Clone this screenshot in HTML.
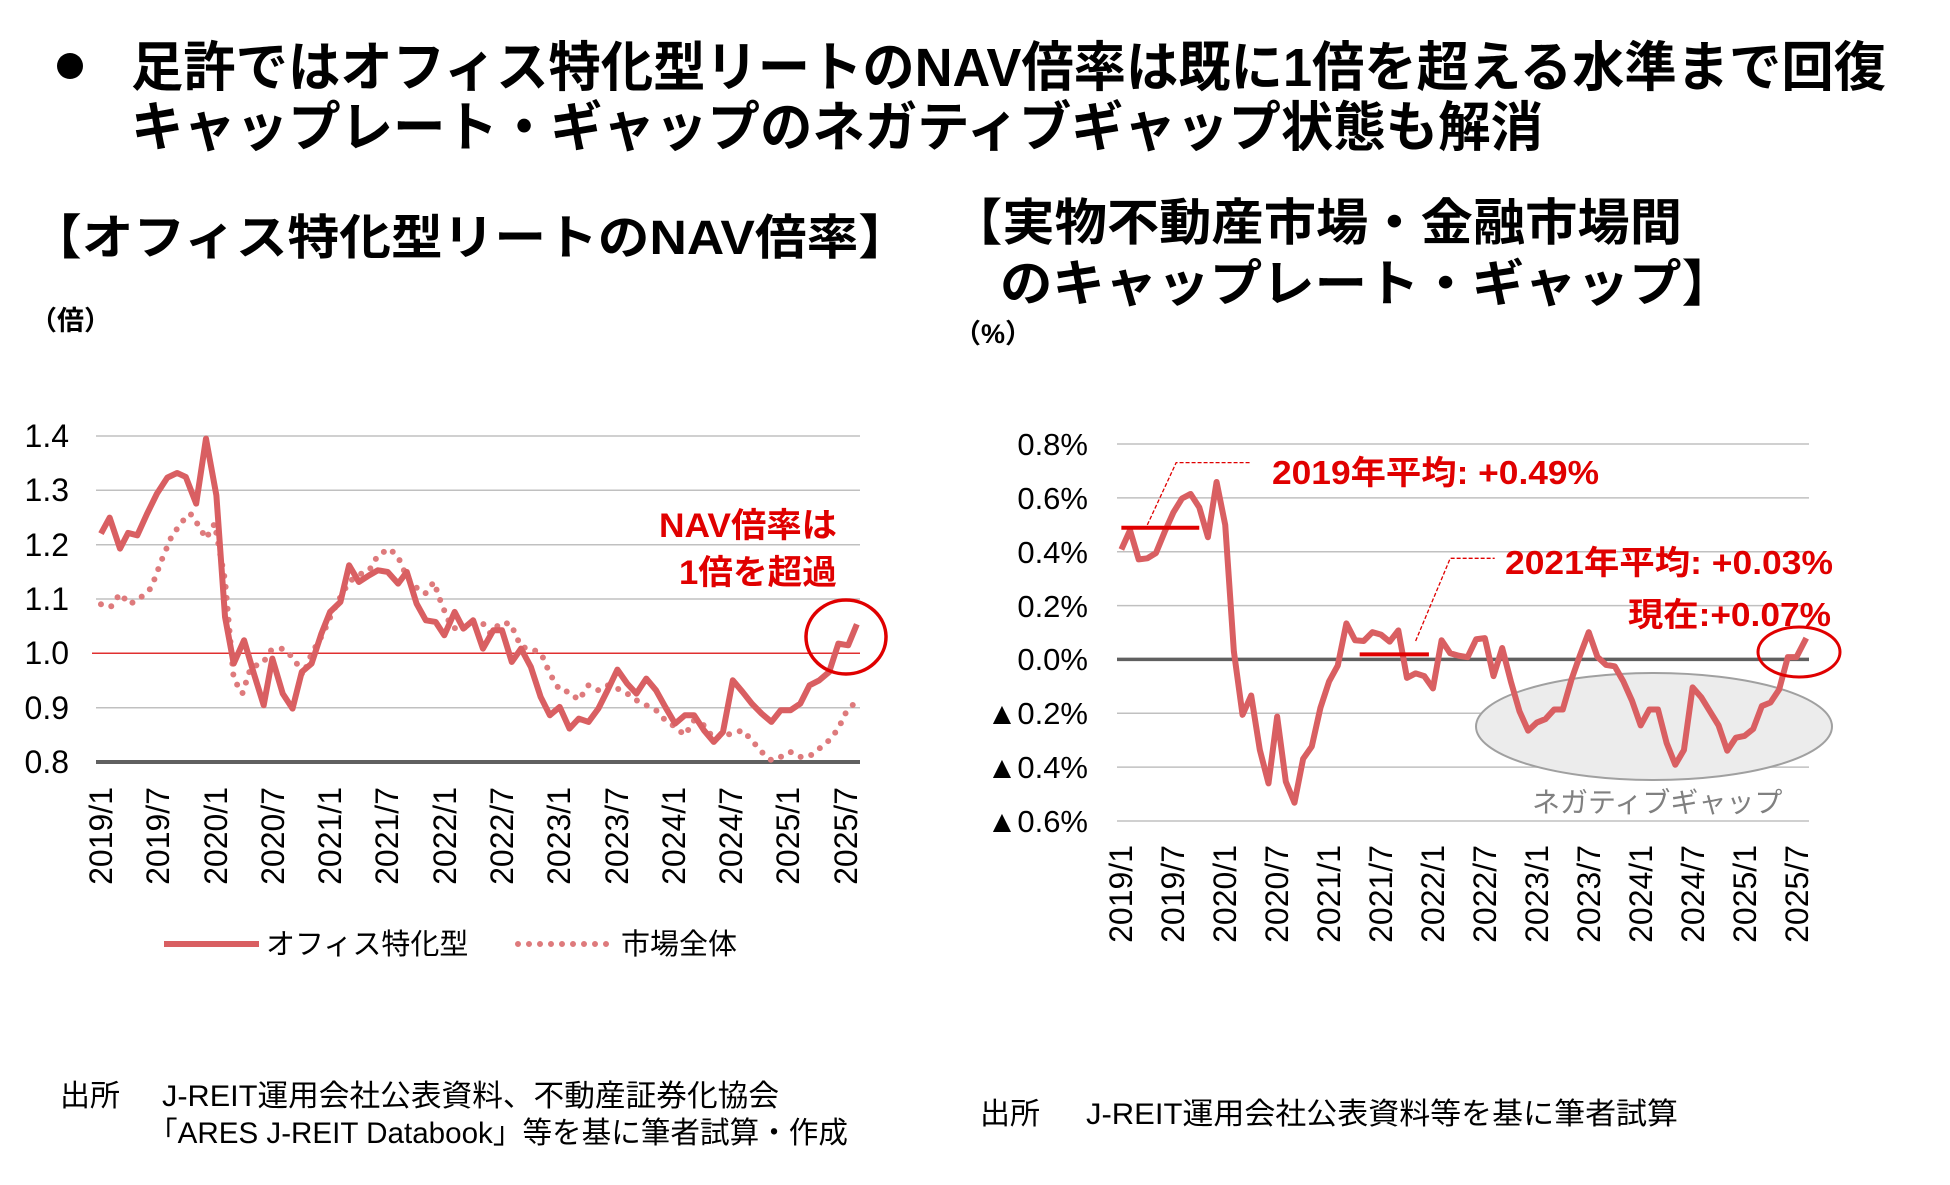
<!DOCTYPE html>
<html><head><meta charset="utf-8"><style>
html,body{margin:0;padding:0;background:#fff;}
svg{display:block;}
text{font-family:"Liberation Sans","Noto Sans CJK JP",sans-serif;}
</style></head><body>
<svg width="1950" height="1185" viewBox="0 0 1950 1185" xmlns="http://www.w3.org/2000/svg">
<!-- Title -->
<circle cx="70" cy="66" r="13" fill="#000"/>
<text x="131" y="86" font-size="54" font-weight="bold" fill="#000" textLength="1755" lengthAdjust="spacingAndGlyphs">足許ではオフィス特化型リートのNAV倍率は既に1倍を超える水準まで回復</text>
<text x="131" y="146" font-size="54" font-weight="bold" fill="#000" textLength="1412" lengthAdjust="spacingAndGlyphs">キャップレート・ギャップのネガティブギャップ状態も解消</text>
<text x="30" y="254" font-size="48" font-weight="bold" fill="#000" textLength="880" lengthAdjust="spacingAndGlyphs">【オフィス特化型リートのNAV倍率】</text>
<text x="950" y="240" font-size="50" font-weight="bold" fill="#000" textLength="732" lengthAdjust="spacingAndGlyphs">【実物不動産市場・金融市場間</text>
<text x="1000" y="301" font-size="50" font-weight="bold" fill="#000" textLength="734" lengthAdjust="spacingAndGlyphs">のキャップレート・ギャップ】</text>
<text x="30" y="330" font-size="27" font-weight="bold" fill="#000">（倍）</text>
<text x="954" y="343" font-size="27" font-weight="bold" fill="#000">（%）</text>

<!-- LEFT CHART -->
<g stroke="#c0c0c0" stroke-width="1.5">
<line x1="96" x2="860" y1="436" y2="436"/><line x1="96" x2="860" y1="490.3" y2="490.3"/>
<line x1="96" x2="860" y1="544.7" y2="544.7"/><line x1="96" x2="860" y1="599" y2="599"/>
<line x1="96" x2="860" y1="707.7" y2="707.7"/>
</g>
<line x1="92" x2="860" y1="653.3" y2="653.3" stroke="#e03030" stroke-width="1.5"/>
<line x1="96" x2="860" y1="762" y2="762" stroke="#606060" stroke-width="4"/>
<g font-size="32" fill="#000" text-anchor="end">
<text x="69" y="447">1.4</text><text x="69" y="501">1.3</text><text x="69" y="556">1.2</text>
<text x="69" y="610">1.1</text><text x="69" y="664">1.0</text><text x="69" y="719">0.9</text><text x="69" y="773">0.8</text>
</g>
<g font-size="32" fill="#000" text-anchor="end">
<text transform="translate(112,787) rotate(-90)">2019/1</text>
<text transform="translate(169,787) rotate(-90)">2019/7</text>
<text transform="translate(227,787) rotate(-90)">2020/1</text>
<text transform="translate(284,787) rotate(-90)">2020/7</text>
<text transform="translate(341,787) rotate(-90)">2021/1</text>
<text transform="translate(398,787) rotate(-90)">2021/7</text>
<text transform="translate(456,787) rotate(-90)">2022/1</text>
<text transform="translate(513,787) rotate(-90)">2022/7</text>
<text transform="translate(570,787) rotate(-90)">2023/1</text>
<text transform="translate(628,787) rotate(-90)">2023/7</text>
<text transform="translate(685,787) rotate(-90)">2024/1</text>
<text transform="translate(742,787) rotate(-90)">2024/7</text>
<text transform="translate(799,787) rotate(-90)">2025/1</text>
<text transform="translate(857,787) rotate(-90)">2025/7</text>
</g>
<g transform="matrix(0.577 0 0 0.3333 0 400.3)" fill="none">
<polyline vector-effect="non-scaling-stroke" stroke="#de7a7c" stroke-width="6" stroke-linecap="round" stroke-dasharray="0 11" points="175,612 192,620 208,580 225,612 245,590 262,563 280,480 297,410 315,365 330,340 345,378 357,415 372,370 390,540 405,835 420,880 435,800 455,790 470,750 490,745 510,775 525,825 540,760 560,700 575,640 590,590 605,545 620,525 640,510 655,465 675,445 690,470 705,530 720,560 737,580 752,545 765,610 782,680 800,690 817,665 835,665 850,700 867,668 885,670 903,740 920,745 938,760 953,820 970,870 987,875 1003,900 1020,855 1037,870 1053,855 1070,865 1087,880 1103,900 1120,915 1137,930 1153,960 1170,980 1187,1005 1203,960 1220,975 1237,1015 1253,1005 1270,1000 1287,990 1303,1020 1320,1055 1337,1080 1353,1070 1370,1055 1387,1070 1403,1068 1420,1045 1437,1020 1453,985 1465,940 1480,910"/>
<polyline vector-effect="non-scaling-stroke" stroke="#d95f62" stroke-width="6" stroke-linejoin="round" points="175,400 190,352 208,445 222,398 238,405 255,340 272,280 290,232 307,218 322,230 340,310 357,115 375,285 390,650 405,790 423,720 440,820 457,915 472,775 490,880 507,925 523,815 540,790 557,700 572,635 590,605 605,495 622,545 640,525 655,510 672,515 690,550 705,515 722,610 738,660 755,665 770,705 788,635 803,685 820,660 837,745 855,690 870,690 887,785 903,745 920,800 937,890 953,945 970,920 987,985 1003,955 1020,965 1037,925 1053,870 1070,808 1087,850 1103,880 1120,835 1137,870 1153,920 1170,970 1187,945 1203,945 1220,990 1237,1025 1253,995 1270,840 1287,875 1303,910 1320,940 1337,965 1353,930 1370,930 1387,910 1403,855 1420,840 1437,815 1453,730 1470,735 1485,672"/>
</g>
<ellipse cx="846" cy="637" rx="40" ry="37" fill="none" stroke="#e00000" stroke-width="3.5"/>
<g font-size="34" font-weight="bold" fill="#e00000" text-anchor="end">
<text x="837" y="537" textLength="178" lengthAdjust="spacingAndGlyphs">NAV倍率は</text>
<text x="837" y="584" textLength="158" lengthAdjust="spacingAndGlyphs">1倍を超過</text>
</g>
<!-- legend -->
<line x1="164" x2="259" y1="944" y2="944" stroke="#d95f62" stroke-width="6"/>
<text x="266" y="954" font-size="29" fill="#000">オフィス特化型</text>
<line x1="518" x2="610" y1="944" y2="944" stroke="#de7a7c" stroke-width="6" stroke-linecap="round" stroke-dasharray="0 11"/>
<text x="621" y="954" font-size="29" fill="#000">市場全体</text>

<!-- RIGHT CHART -->
<g stroke="#c0c0c0" stroke-width="1.5">
<line x1="1117" x2="1809" y1="444" y2="444"/><line x1="1117" x2="1809" y1="497.9" y2="497.9"/>
<line x1="1117" x2="1809" y1="551.7" y2="551.7"/><line x1="1117" x2="1809" y1="605.6" y2="605.6"/>
<line x1="1117" x2="1809" y1="713.3" y2="713.3"/><line x1="1117" x2="1809" y1="767.1" y2="767.1"/>
<line x1="1117" x2="1809" y1="821" y2="821"/>
</g>
<line x1="1117" x2="1809" y1="659.4" y2="659.4" stroke="#606060" stroke-width="3.5"/>
<ellipse cx="1654" cy="726.5" rx="178" ry="53.5" fill="#ececec" stroke="#a0a0a0" stroke-width="2"/>
<g font-size="31" fill="#000" text-anchor="end">
<text x="1088" y="455">0.8%</text><text x="1088" y="509">0.6%</text><text x="1088" y="563">0.4%</text>
<text x="1088" y="617">0.2%</text><text x="1088" y="670">0.0%</text><text x="1088" y="724">▲0.2%</text>
<text x="1088" y="778">▲0.4%</text><text x="1088" y="832">▲0.6%</text>
</g>
<g font-size="32" fill="#000" text-anchor="end">
<text transform="translate(1132,845) rotate(-90)">2019/1</text>
<text transform="translate(1184,845) rotate(-90)">2019/7</text>
<text transform="translate(1236,845) rotate(-90)">2020/1</text>
<text transform="translate(1288,845) rotate(-90)">2020/7</text>
<text transform="translate(1340,845) rotate(-90)">2021/1</text>
<text transform="translate(1392,845) rotate(-90)">2021/7</text>
<text transform="translate(1444,845) rotate(-90)">2022/1</text>
<text transform="translate(1496,845) rotate(-90)">2022/7</text>
<text transform="translate(1548,845) rotate(-90)">2023/1</text>
<text transform="translate(1600,845) rotate(-90)">2023/7</text>
<text transform="translate(1652,845) rotate(-90)">2024/1</text>
<text transform="translate(1704,845) rotate(-90)">2024/7</text>
<text transform="translate(1756,845) rotate(-90)">2025/1</text>
<text transform="translate(1808,845) rotate(-90)">2025/7</text>
</g>
<g transform="matrix(0.577 0 0 0.3517 980 419.4)" fill="none">
<polyline vector-effect="non-scaling-stroke" stroke="#e00000" stroke-width="1.3" stroke-dasharray="4 2" points="290,300 340,123 470,123"/>
<polyline vector-effect="non-scaling-stroke" stroke="#e00000" stroke-width="1.3" stroke-dasharray="4 2" points="755,630 815,395 892,395"/>
<polyline vector-effect="non-scaling-stroke" stroke="#d95f62" stroke-width="6" stroke-linejoin="round" points="245,370 260,315 275,398 290,395 305,380 320,320 335,265 350,225 365,212 380,250 395,335 410,178 425,300 440,660 455,840 470,785 485,940 500,1035 515,845 530,1030 545,1090 560,965 575,930 590,820 605,745 620,700 635,580 650,628 665,630 680,605 695,612 710,632 725,600 740,735 755,722 770,730 785,765 800,628 815,665 830,672 845,676 860,625 875,622 890,730 905,650 920,745 935,830 950,885 965,862 980,852 995,825 1010,825 1025,740 1040,670 1055,605 1070,675 1085,698 1100,702 1115,745 1130,800 1145,870 1160,825 1175,825 1190,920 1205,982 1220,940 1235,762 1250,790 1265,830 1280,870 1295,942 1310,905 1325,900 1340,880 1355,815 1370,805 1385,768 1400,676 1415,676 1432,622"/>
<polyline vector-effect="non-scaling-stroke" stroke="#e00000" stroke-width="4" points="245,308 380,308"/>
<polyline vector-effect="non-scaling-stroke" stroke="#e00000" stroke-width="4" points="658,668 778,668"/>
</g>
<ellipse cx="1799" cy="652" rx="41" ry="25" fill="none" stroke="#e00000" stroke-width="3"/>
<g font-size="33" font-weight="bold" fill="#e00000">
<text x="1272" y="484" textLength="327" lengthAdjust="spacingAndGlyphs">2019年平均: +0.49%</text>
<text x="1505" y="574" textLength="328" lengthAdjust="spacingAndGlyphs">2021年平均: +0.03%</text>
<text x="1628" y="626" textLength="203" lengthAdjust="spacingAndGlyphs">現在:+0.07%</text>
</g>
<text x="1532" y="812" font-size="28" fill="#808080">ネガティブギャップ</text>

<!-- Sources -->
<g font-size="30" fill="#000">
<text x="60" y="1106">出所</text>
<text x="162" y="1106" textLength="617" lengthAdjust="spacingAndGlyphs">J-REIT運用会社公表資料、不動産証券化協会</text>
<text x="148" y="1143" textLength="700" lengthAdjust="spacingAndGlyphs">「ARES J-REIT Databook」等を基に筆者試算・作成</text>
<text x="980" y="1124">出所</text>
<text x="1086" y="1124" textLength="592" lengthAdjust="spacingAndGlyphs">J-REIT運用会社公表資料等を基に筆者試算</text>
</g>
</svg>
</body></html>
